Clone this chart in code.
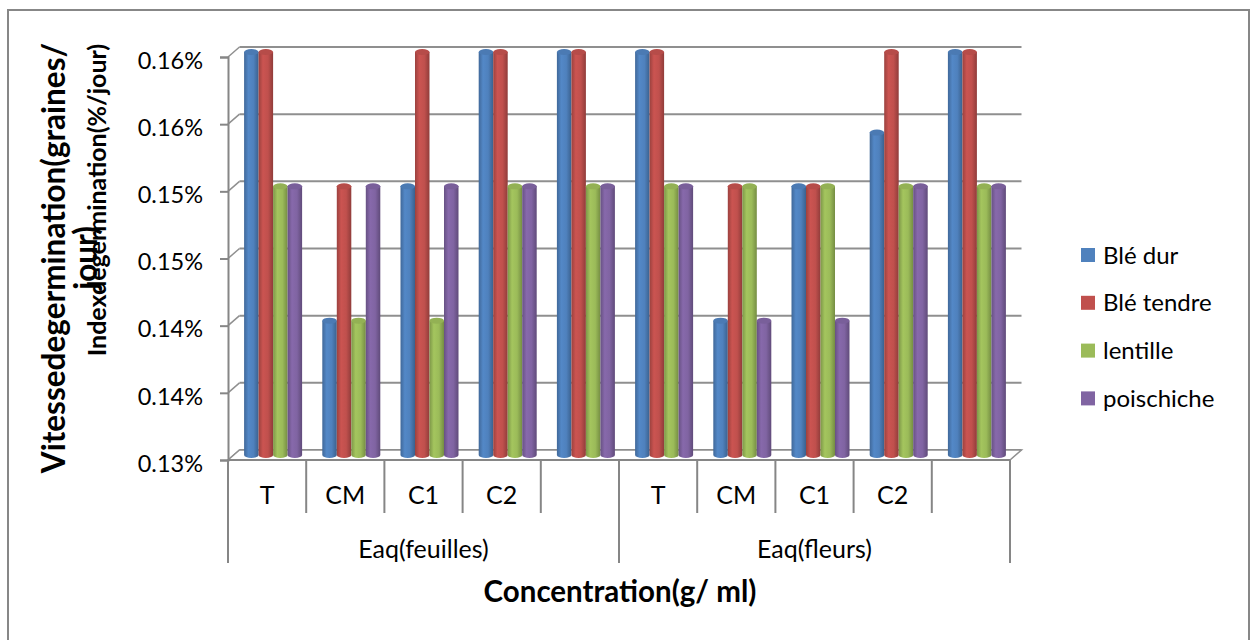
<!DOCTYPE html>
<html>
<head>
<meta charset="utf-8">
<script src="https://cdn.jsdelivr.net/npm/d3@7"></script>
<style>
  body { margin: 0; background: #fff; }
  text { font-family: Lato, "Open Sans", sans-serif; fill: #000; }
</style>
</head>
<body>
<script>
// chart data
var categories = ['T', 'CM', 'C1', 'C2', '', 'T', 'CM', 'C1', 'C2', ''];
var groups = ['Eaq(feuilles)', 'Eaq(fleurs)'];
var seriesNames = ['Blé dur', 'Blé tendre', 'lentille', 'poischiche'];
var bleDur = [0.0016, 0.0014, 0.0015, 0.0016, 0.0016, 0.0016, 0.0014, 0.0015, 0.00154, 0.0016];
var bleTendre = [0.0016, 0.0015, 0.0016, 0.0016, 0.0016, 0.0016, 0.0015, 0.0015, 0.0016, 0.0016];
var lentille = [0.0015, 0.0014, 0.0014, 0.0015, 0.0015, 0.0015, 0.0015, 0.0015, 0.0015, 0.0015];
var poischiche = [0.0015, 0.0015, 0.0015, 0.0015, 0.0015, 0.0015, 0.0014, 0.0014, 0.0015, 0.0015];
var yTicks = [0.0013, 0.00135, 0.0014, 0.00145, 0.0015, 0.00155, 0.0016];
var yTickLabels = ['0.13%', '0.14%', '0.14%', '0.15%', '0.15%', '0.16%', '0.16%'];
var colors = ['#4F81BD', '#C0504D', '#9BBB59', '#8064A2'];

(function() {
  var w = 1251;
  var h = 640;
  var values = [bleDur, bleTendre, lentille, poischiche];

  // 3d offsets: back wall and middle of depth (where the bars stand)
  var back = { dx: 11.5, dy: -10 };
  var mid = { dx: 6, dy: -5 };

  var svg = d3
    .select('body')
    .append('svg')
    .attr('width', w)
    .attr('height', h);

  svg
    .append('rect')
    .attr('x', 8)
    .attr('y', 10)
    .attr('width', 1241)
    .attr('height', 660)
    .attr('fill', 'none')
    .attr('stroke', '#878787')
    .attr('stroke-width', 2);

  var xScale = d3
    .scaleBand()
    .domain(d3.range(categories.length))
    .range([228, 1010]);

  var yScale = d3
    .scaleLinear()
    .domain([yTicks[0], yTicks[yTicks.length - 1]])
    .range([460, 57]);

  var clusterW = 58;
  var sScale = d3
    .scaleBand()
    .domain(d3.range(seriesNames.length))
    .range([0, clusterW]);

  var x0 = xScale.range()[0];
  var x1 = xScale.range()[1];

  // back wall gridlines
  svg
    .append('g')
    .selectAll('line')
    .data(yTicks)
    .enter()
    .append('line')
    .attr('x1', x0 + back.dx)
    .attr('x2', x1 + back.dx)
    .attr('y1', d => yScale(d) + back.dy)
    .attr('y2', d => yScale(d) + back.dy)
    .attr('stroke', '#8f8f8f')
    .attr('stroke-width', 2);

  // side wall diagonals
  svg
    .append('g')
    .selectAll('line')
    .data(yTicks)
    .enter()
    .append('line')
    .attr('x1', x0)
    .attr('x2', x0 + back.dx)
    .attr('y1', d => yScale(d))
    .attr('y2', d => yScale(d) + back.dy)
    .attr('stroke', '#8f8f8f')
    .attr('stroke-width', 1.5);

  // floor
  var y0 = yScale(yTicks[0]);
  svg
    .append('path')
    .attr('d', `M${x0},${y0}L${x1},${y0}L${x1 + back.dx},${y0 + back.dy}L${x0 + back.dx},${y0 + back.dy}Z`)
    .attr('fill', '#fff')
    .attr('stroke', '#8f8f8f')
    .attr('stroke-width', 1.5);

  // gradients for the cylinders
  var defs = svg.append('defs');
  colors.forEach(function(c, i) {
    var g = defs
      .append('linearGradient')
      .attr('id', 'cyl' + i)
      .attr('x1', 0)
      .attr('x2', 1)
      .attr('y1', 0)
      .attr('y2', 0);
    var base = d3.color(c);
    g.append('stop').attr('offset', '0%').attr('stop-color', base.darker(0.6));
    g.append('stop').attr('offset', '30%').attr('stop-color', base.brighter(0.15));
    g.append('stop').attr('offset', '65%').attr('stop-color', base);
    g.append('stop').attr('offset', '100%').attr('stop-color', base.darker(0.8));
  });

  var bars = [];
  categories.forEach(function(cat, i) {
    values.forEach(function(arr, s) {
      bars.push({ cat: i, s: s, value: arr[i] });
    });
  });

  var barW = sScale.bandwidth();
  var ry = 3;
  var barX = d => xScale(d.cat) + (xScale.bandwidth() - clusterW) / 2 + sScale(d.s) + mid.dx;
  var barTop = d => yScale(d.value) + mid.dy;
  var barBottom = yScale(yTicks[0]) + mid.dy;

  var barG = svg
    .append('g')
    .selectAll('g')
    .data(bars)
    .enter()
    .append('g');

  barG
    .append('path')
    .attr('d', function(d) {
      var x = barX(d);
      var t = barTop(d);
      var rx = barW / 2;
      return `M${x},${t}L${x},${barBottom}A${rx},${ry} 0 0 0 ${x + barW},${barBottom}L${x + barW},${t}Z`;
    })
    .attr('fill', d => `url(#cyl${d.s})`);

  barG
    .append('ellipse')
    .attr('cx', d => barX(d) + barW / 2)
    .attr('cy', barTop)
    .attr('rx', barW / 2)
    .attr('ry', ry)
    .attr('fill', d => d3.color(colors[d.s]).darker(0.15));

  barG
    .append('title')
    .text(d => seriesNames[d.s] + ': ' + (d.value * 100).toFixed(3) + '%');

  // value axis
  var yAxis = d3
    .axisLeft(yScale)
    .tickValues(yTicks)
    .tickSize(8)
    .tickPadding(17)
    .tickFormat((d, i) => yTickLabels[i]);

  var yAxisG = svg
    .append('g')
    .attr('transform', `translate(${x0},0)`)
    .call(yAxis);

  yAxisG.select('.domain').attr('stroke', '#868686').attr('stroke-width', 2);
  yAxisG.selectAll('.tick line').attr('stroke', '#868686').attr('stroke-width', 2);
  yAxisG
    .selectAll('.tick text')
    .attr('dy', '0.48em')
    .style('font-size', '23.5px')
    .style('font-family', 'Lato, sans-serif')
    .attr('fill', '#000');

  // category axis (two levels)
  var catAxis = svg.append('g');
  catAxis
    .append('line')
    .attr('x1', x0)
    .attr('x2', x1)
    .attr('y1', y0)
    .attr('y2', y0)
    .attr('stroke', '#868686')
    .attr('stroke-width', 2);

  var bounds = d3.range(categories.length + 1);
  catAxis
    .selectAll('line.sep')
    .data(bounds)
    .enter()
    .append('line')
    .attr('class', 'sep')
    .attr('x1', i => (i === categories.length ? x1 : xScale(i)))
    .attr('x2', i => (i === categories.length ? x1 : xScale(i)))
    .attr('y1', y0)
    .attr('y2', i => (i % 5 === 0 ? 563 : 513))
    .attr('stroke', '#868686')
    .attr('stroke-width', 2);

  catAxis
    .selectAll('text.cat')
    .data(categories)
    .enter()
    .append('text')
    .attr('class', 'cat')
    .attr('x', (d, i) => xScale(i) + xScale.bandwidth() / 2)
    .attr('y', 504)
    .attr('text-anchor', 'middle')
    .style('font-size', '25px')
    .text(d => d);

  var groupW = xScale.bandwidth() * 5;
  catAxis
    .selectAll('text.grp')
    .data(groups)
    .enter()
    .append('text')
    .attr('class', 'grp')
    .attr('x', (d, i) => x0 + groupW * i + groupW / 2)
    .attr('y', 558)
    .attr('text-anchor', 'middle')
    .style('font-size', '25px')
    .text(d => d);

  svg
    .append('text')
    .attr('x', 620)
    .attr('y', 602)
    .attr('text-anchor', 'middle')
    .style('font-size', '29.5px')
    .style('font-weight', 'bold')
    .text('Concentration(g/ ml)');

  // two overlapping value axis titles, as in the original
  var vTitle = svg
    .append('text')
    .attr('transform', 'translate(65,258) rotate(-90)')
    .attr('text-anchor', 'middle')
    .style('font-size', '31.5px')
    .style('font-weight', 'bold');
  vTitle.append('tspan').attr('x', 0).attr('y', 0).text('Vitessedegermination(graines/');
  vTitle.append('tspan').attr('x', 0).attr('y', 32).text('jour)');

  svg
    .append('text')
    .attr('transform', 'translate(106,200) rotate(-90)')
    .attr('text-anchor', 'middle')
    .style('font-size', '25px')
    .style('font-weight', 'bold')
    .text('Indexdegermination(%/jour)');

  // legend
  var legend = svg
    .append('g')
    .selectAll('g')
    .data(seriesNames)
    .enter()
    .append('g')
    .attr('transform', (d, i) => `translate(1081,${255 + i * 47.8})`);

  legend
    .append('rect')
    .attr('x', 0)
    .attr('y', -7)
    .attr('width', 14)
    .attr('height', 14)
    .attr('fill', (d, i) => colors[i]);

  legend
    .append('text')
    .attr('x', 22)
    .attr('y', 8.5)
    .style('font-size', '24px')
    .text(d => d);
})();
</script>
</body>
</html>
